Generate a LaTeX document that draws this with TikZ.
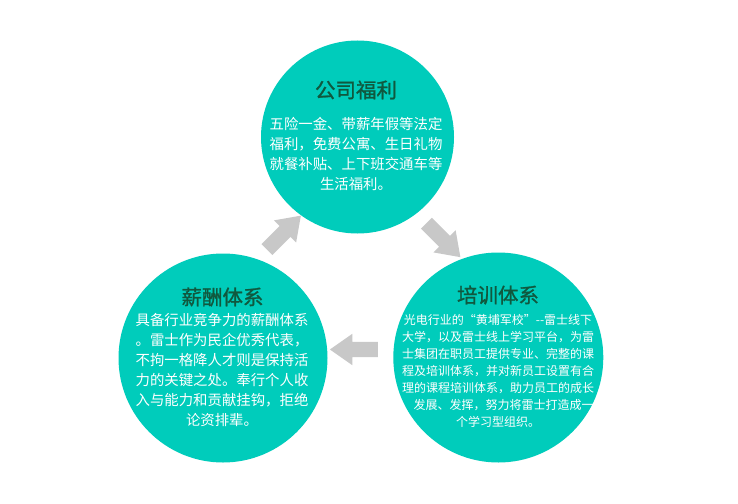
\documentclass[tikz,border=0pt]{standalone}
\usepackage{fontspec}
\newfontfamily\cjk{Noto Sans CJK SC}
\newfontfamily\cjkmid{Noto Sans CJK SC}[FakeBold=1.2]
\usetikzlibrary{shapes.arrows}
\definecolor{bubblefill}{RGB}{0,204,187}
\definecolor{titlegreen}{RGB}{16,88,62}
\definecolor{arrowgray}{RGB}{200,200,200}
\begin{document}
\begin{tikzpicture}[x=1pt,y=-1pt,
  bubble/.style={circle,fill=bubblefill,draw=none,inner sep=0pt},
  ttl/.style={text=titlegreen,inner sep=0pt,font=\cjkmid\fontsize{20.5}{24}\selectfont},
  bodytext/.style={text=white,align=center,inner sep=0pt,font=\cjk\fontsize{14.4}{20}\selectfont},
  smallbody/.style={text=white,align=center,inner sep=0pt,font=\cjk\fontsize{12}{17}\selectfont},
  blockarrow/.style={single arrow,fill=arrowgray,draw=none,minimum height=48pt,minimum width=31pt,
    single arrow head extend=8pt,single arrow tip angle=70,inner xsep=0pt,inner ysep=7.5pt}]
\useasboundingbox[fill=white] (0,0) rectangle (738,503);

% circles
\node[bubble,minimum size=193pt] (top) at (357.5,137) {};
\node[bubble,minimum size=209pt] (left) at (223,358) {};
\node[bubble,minimum size=210pt] (right) at (498.3,357.5) {};

% top circle
\node[ttl] (toptitle) at (356,90) {公司福利};
\node[bodytext] (topbody) at (356,154) {五险一金、带薪年假等法定\\福利，免费公寓、生日礼物\\就餐补贴、上下班交通车等\\生活福利。};

% left circle
\node[ttl] (lefttitle) at (222.5,297) {薪酬体系};
\node[bodytext] (leftbody) at (222,370) {具备行业竞争力的薪酬体系\\。雷士作为民企优秀代表，\\不拘一格降人才则是保持活\\力的关键之处。奉行个人收\\入与能力和贡献挂钩，拒绝\\论资排辈。};

% right circle
\node[ttl] (righttitle) at (498,295) {培训体系};
\node[smallbody] (rightbody) at (498,371) {光电行业的“黄埔军校”--雷士线下\\大学，以及雷士线上学习平台，为雷\\士集团在职员工提供专业、完整的课\\程及培训体系，并对新员工设置有合\\理的课程培训体系，助力员工的成长\\\hspace*{11pt}发展、发挥，努力将雷士打造成一\\个学习型组织。};

% arrows
\node[blockarrow,rotate=45] (a1) at (280,236.5) {};
\node[blockarrow,rotate=-45] (a2) at (439.5,236.3) {};
\node[blockarrow,rotate=180] (a3) at (359.4,349.5) {};
\end{tikzpicture}
\end{document}
